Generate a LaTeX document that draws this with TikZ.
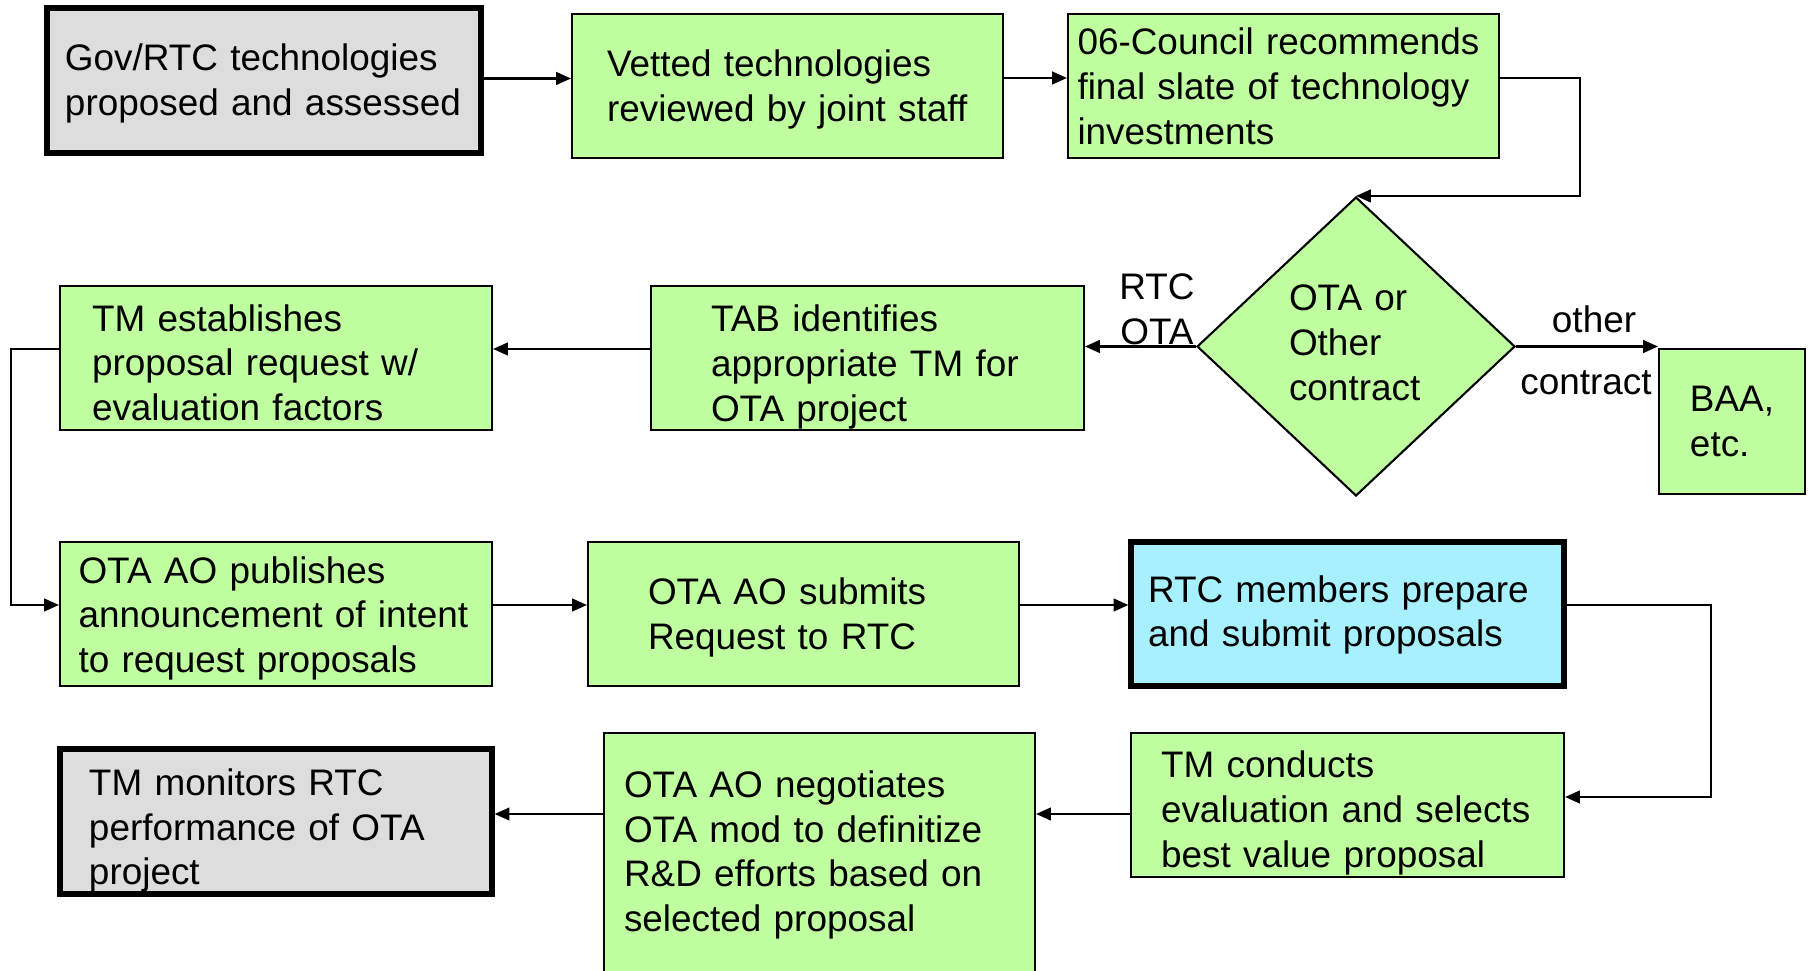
\documentclass[tikz,border=0pt]{standalone}
\usepackage{fontspec}
\setmainfont{Liberation Sans}
\usepackage{tikz}
\usetikzlibrary{positioning}
\usetikzlibrary{shapes.geometric}
\usetikzlibrary{arrows.meta}
\definecolor{stepgreen}{RGB}{192,255,160}
\definecolor{stepgray}{RGB}{221,221,221}
\definecolor{stepblue}{RGB}{166,240,255}
\tikzset{stepbox/.style={rectangle, draw=black, line width=0.6pt, fill=stepgreen, minimum width=4.32cm, minimum height=1.44cm, inner xsep=0pt, inner ysep=0pt, align=left, font=\fontsize{10.5}{12.8}\selectfont}}
\tikzset{keybox/.style={stepbox, line width=1.5pt}}
\tikzset{decision/.style={diamond, draw=black, line width=0.6pt, fill=stepgreen, minimum width=3.18cm, minimum height=2.99cm, inner sep=0pt, align=left, font=\fontsize{10.5}{12.8}\selectfont}}
\tikzset{lbl/.style={inner sep=0pt, align=center, font=\fontsize{10.5}{12.8}\selectfont}}
\tikzset{textdrop/.style={execute at begin node={\rule{0pt}{#1}}, execute at end node={\rule[-0.08cm]{0pt}{0.08cm}}}}
\tikzset{flow/.style={-{Triangle[length=4.2pt,width=3.6pt]}, line width=0.6pt}}

\begin{document}
\begin{tikzpicture}
    \clip (0,0) rectangle (18.08,-9.71);
    \node [keybox, fill=stepgray, minimum width=4.34cm, minimum height=1.45cm, text width=3.98cm, textdrop=0.34cm](gov) at (2.64,-0.805){Gov/RTC technologies\\proposed and assessed};
    \node [stepbox, minimum width=4.31cm, text width=3.61cm, textdrop=0.34cm](vetted) at (7.875,-0.86){Vetted technologies\\reviewed by joint staff};
    \node [stepbox, minimum width=4.31cm, text width=4.12cm, textdrop=0.35cm](council) at (12.835,-0.86){06-Council recommends\\final slate of technology\\investments};
    \node [decision, text width=1.34cm, textdrop=0pt](choice) at (13.56,-3.465){OTA or\\Other\\contract};
    \node [stepbox, minimum width=1.46cm, minimum height=1.45cm](baa) at (17.32,-4.215){BAA,\\etc.};
    \node [stepbox, minimum width=4.33cm, text width=3.13cm, textdrop=0.45cm](tab) at (8.675,-3.58){TAB identifies\\appropriate TM for\\OTA project};
    \node [stepbox, text width=3.68cm, textdrop=0.44cm](estab) at (2.76,-3.58){TM establishes\\proposal request w/\\evaluation factors};
    \node [stepbox, text width=3.95cm, textdrop=0.36cm](publishes) at (2.76,-6.14){OTA AO publishes\\announcement of intent\\to request proposals};
    \node [stepbox, minimum width=4.31cm, text width=3.11cm, textdrop=0.34cm](submits) at (8.035,-6.14){OTA AO submits\\Request to RTC};
    \node [keybox, fill=stepblue, minimum width=4.33cm, text width=3.99cm, textdrop=0.29cm](rtc) at (13.475,-6.14){RTC members prepare\\and submit proposals};
    \node [stepbox, minimum width=4.33cm, text width=3.73cm, textdrop=0.43cm](conducts) at (13.475,-8.05){TM conducts\\evaluation and selects\\best value proposal};
    \node [stepbox, minimum width=4.31cm, minimum height=2.42cm, text width=3.91cm, textdrop=0.29cm](negotiates) at (8.195,-8.54){OTA AO negotiates\\OTA mod to definitize\\R\&D efforts based on\\selected proposal};
    \node [keybox, fill=stepgray, minimum height=1.45cm, text width=3.74cm, textdrop=0.45cm](monitors) at (2.76,-8.215){TM monitors RTC\\performance of OTA\\project};
    \node [lbl](rtclbl) at (11.57,-3.095) {RTC\\OTA};
    \node [lbl](otherlbl) at (15.94,-3.19) {other};
    \node [lbl](contractlbl) at (15.86,-3.83) {contract};

    \draw[flow] ([yshift=0.02cm]gov.east) -- ([yshift=0.02cm]gov.east -| vetted.west);
    \draw[flow] ([yshift=0.08cm]vetted.east) -- ([yshift=0.08cm]council.west);
    \draw[flow] ([yshift=0.08cm]council.east) -- ++(0.8,0) |- (choice.north);
    \draw[flow] (choice.west) -- (choice.west -| tab.east);
    \draw[flow] (choice.east) -- (choice.east -| baa.west);
    \draw[flow] ([yshift=0.09cm]tab.west) -- ([yshift=0.09cm]estab.east);
    \draw[flow] ([yshift=0.09cm]estab.west) -- ++(-0.48,0) |- ([yshift=0.09cm]publishes.west);
    \draw[flow] ([yshift=0.09cm]publishes.east) -- ([yshift=0.09cm]submits.west);
    \draw[flow] ([yshift=0.09cm]submits.east) -- ([yshift=0.09cm]rtc.west);
    \draw[flow] ([yshift=0.09cm]rtc.east) -- ++(1.44,0) |- ([yshift=0.08cm]conducts.east);
    \draw[flow] ([yshift=-0.09cm]conducts.west) -- ([yshift=-0.09cm]conducts.west -| negotiates.east);
    \draw[flow] ([yshift=0.075cm]monitors.east -| negotiates.west) -- ([yshift=0.075cm]monitors.east);
\end{tikzpicture}
\end{document}
